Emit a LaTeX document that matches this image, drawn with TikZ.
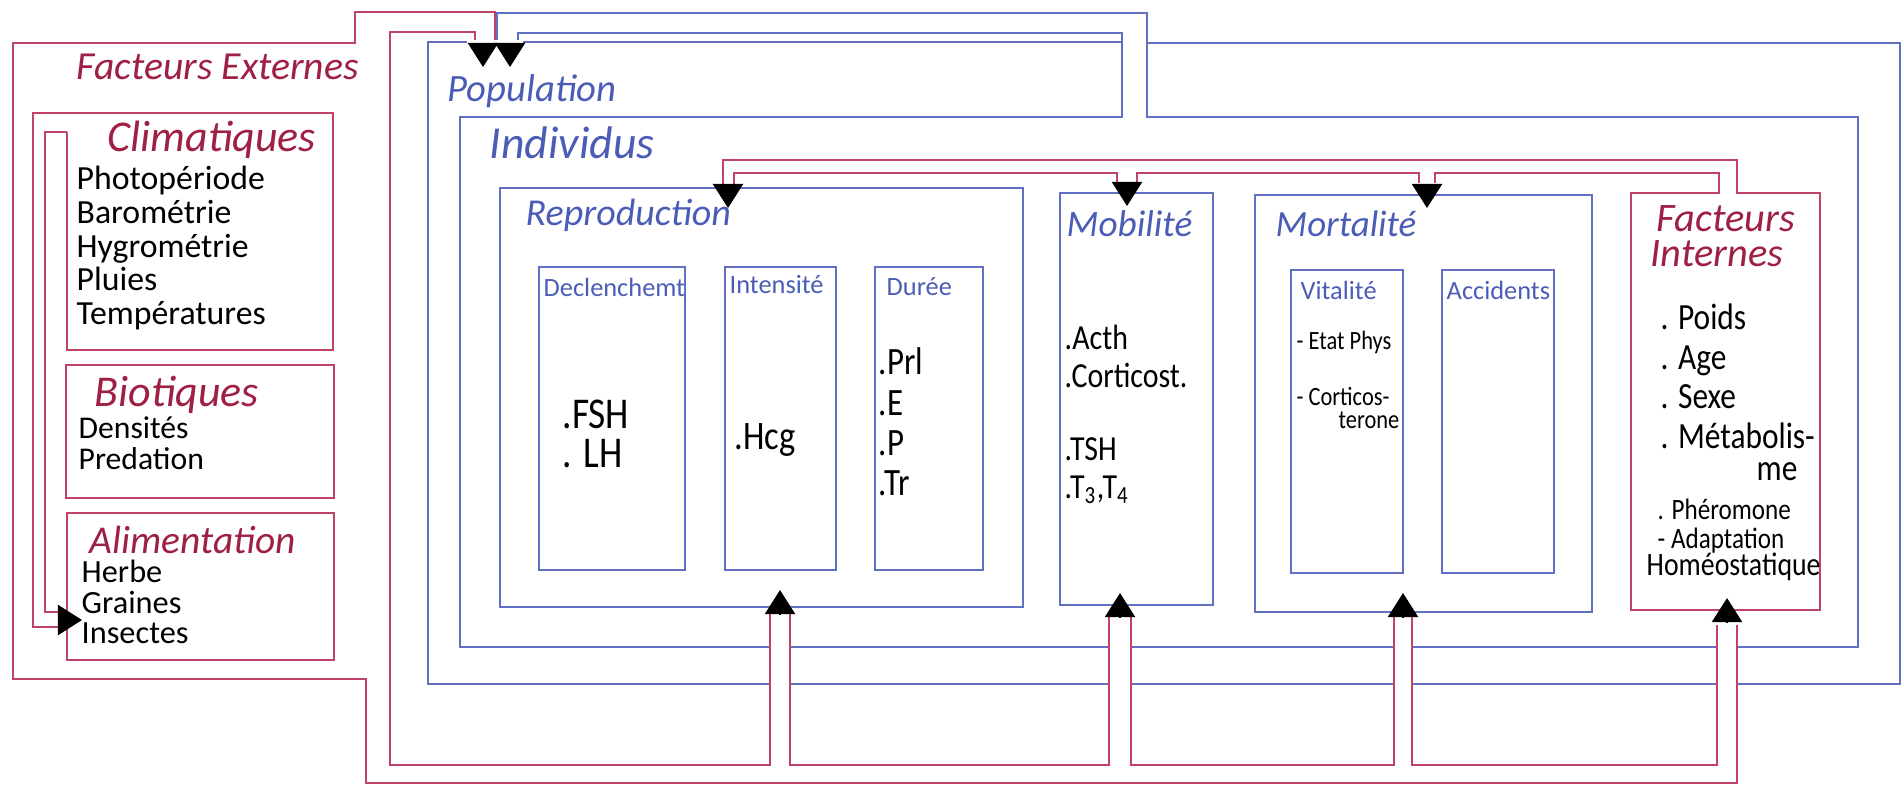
\documentclass[tikz,border=0pt]{standalone}
\usepackage{fontspec}
\setmainfont{Carlito}
\newfontfamily\inkfont[FakeStretch=0.85]{Carlito}
\usetikzlibrary{arrows.meta,positioning,fit}
\definecolor{penred}{RGB}{192,68,102}
\definecolor{inkred}{RGB}{158,32,68}
\definecolor{penblue}{RGB}{98,112,196}
\definecolor{inkblue}{RGB}{74,92,182}
\tikzset{
  redbox/.style={draw=penred, line width=0.8pt, inner sep=0pt},
  bluebox/.style={draw=penblue, line width=0.8pt, inner sep=0pt},
  zone/.style={inner sep=0pt},
  redwall/.style={draw=penred, line width=0.8pt},
  bluewall/.style={draw=penblue, line width=0.8pt},
  headtip/.style={-{Triangle[length=0.24cm,width=0.3cm]}, line width=0.6pt, black},
  redtitle/.style={text=inkred, font=\itshape\fontsize{#1}{#1}\selectfont, anchor=west, inner sep=0pt},
  bluetitle/.style={text=inkblue, font=\itshape\fontsize{#1}{#1}\selectfont, anchor=west, inner sep=0pt},
  bluesmall/.style={text=inkblue, font=\fontsize{7.5}{7.5}\selectfont, anchor=west, inner sep=0pt},
  ink/.style={anchor=west, inner sep=0pt, align=left},
}

\begin{document}
\begin{tikzpicture}[x=0.01cm, y=-0.01cm]
  \useasboundingbox (0,0) rectangle (1904,787);

  %% Boxes
  \node[zone, fit={(13,43) (390,679)}] (fext) {};
  \node[zone, fit={(67,113) (333,350)}] (clim) {};
  \node[redbox, fit={(66,365) (334,498)}] (bio) {};
  \node[redbox, fit={(67,513) (334,660)}] (alim) {};
  \node[zone, fit={(428,42) (1900,684)}] (popu) {};
  \node[zone, fit={(460,117) (1858,647)}] (indiv) {};
  \node[bluebox, fit={(500,188) (1023,607)}] (repro) {};
  \node[bluebox, fit={(539,267) (685,570)}] (decl) {};
  \node[bluebox, fit={(725,267) (836,570)}] (inten) {};
  \node[bluebox, fit={(875,267) (983,570)}] (duree) {};
  \node[bluebox, fit={(1060,193) (1213,605)}] (mobil) {};
  \node[bluebox, fit={(1255,195) (1592,612)}] (morta) {};
  \node[bluebox, fit={(1291,270) (1403,573)}] (vital) {};
  \node[bluebox, fit={(1442,270) (1554,573)}] (accid) {};
  \node[zone, fit={(1631,193) (1820,610)}] (fint) {};

  %% Population, Individus and the loop on top
  \draw[bluewall] (467,42) -- (428,42) -- (428,684) -- (1900,684) -- (1900,43) -- (1147,43);
  \draw[bluewall] (523,42) -- (1122,42);
  \draw[bluewall] (497,40) -- (497,13) -- (1147,13) -- (1147,117) -- (1858,117) -- (1858,647)
    -- (460,647) -- (460,117) -- (1122,117) -- (1122,33) -- (518,33) -- (518,40);

  %% red pipes
  \foreach \a/\b in {770/790, 1109/1131, 1394/1412, 1717/1737}
    \fill[white] (\a,615) rectangle (\b,765);
  \draw[redwall] (495,40) -- (495,12) -- (355,12) -- (355,43) -- (13,43) -- (13,679) -- (366,679)
    -- (366,783) -- (1737,783) -- (1737,625);
  \draw[redwall] (475,40) -- (475,32) -- (390,32) -- (390,765) -- (770,765) -- (770,612);
  \draw[redwall] (790,612) -- (790,765) -- (1109,765) -- (1109,614);
  \draw[redwall] (1131,614) -- (1131,765) -- (1394,765) -- (1394,615);
  \draw[redwall] (1412,615) -- (1412,765) -- (1717,765) -- (1717,625);
  \draw[redwall] (67,132) -- (67,350) -- (333,350) -- (333,113) -- (33,113) -- (33,627) -- (58,627);
  \draw[redwall] (58,612) -- (45,612) -- (45,132) -- (67,132);
  \draw[redwall] (1435,183) -- (1435,173) -- (1719,173) -- (1719,193) -- (1631,193) -- (1631,610)
    -- (1820,610) -- (1820,193) -- (1737,193) -- (1737,160) -- (723,160) -- (723,186);
  \draw[redwall] (1419,183) -- (1419,173) -- (1137,173) -- (1137,183);
  \draw[redwall] (1117,183) -- (1117,173) -- (734,173) -- (734,186);

  %% Arrow heads
  \draw[headtip] (483,43) -- (483,67);
  \draw[headtip] (510,43) -- (510,67);
  \draw[headtip] (728,184) -- (728,208);
  \draw[headtip] (1127,182) -- (1127,206);
  \draw[headtip] (1427,184) -- (1427,208);
  \draw[headtip] (780,614) -- (780,590);
  \draw[headtip] (1120,617) -- (1120,593);
  \draw[headtip] (1403,617) -- (1403,593);
  \draw[headtip] (1727,622) -- (1727,598);
  \draw[headtip] (58,620) -- (82,620);

  %% Facteurs externes
  \node[redtitle=11.3] (fextlbl) at (76,67) {Facteurs Externes};
  \node[redtitle=12.5] (climlbl) at (107,140) {Climatiques};
  \node[ink, font=\fontsize{9.6}{9.6}\selectfont] (climtxt) at (76,248)
    {Photopériode\\Barométrie\\Hygrométrie\\Pluies\\Températures};
  \node[redtitle=12.5] (biolbl) at (94,395) {Biotiques};
  \node[ink, font=\fontsize{9}{8.8}\selectfont] (biotxt) at (78,443) {Densités\\Predation};
  \node[redtitle=11.2] (alimlbl) at (89,540) {Alimentation};
  \node[ink, font=\fontsize{9.2}{8.6}\selectfont] (alimtxt) at (81,602) {Herbe\\Graines\\Insectes};

  %% Population
  \node[bluetitle=11] (populbl) at (447,91) {Population};
  \node[bluetitle=13] (indivlbl) at (489,143) {Individus};
  \node[bluetitle=10.8] (reprolbl) at (525,215) {Reproduction};
  \node[bluesmall] (decllbl) at (543,287) {Declenchemt};
  \node[bluesmall] (intenlbl) at (729,285) {Intensité};
  \node[bluesmall] (dureelbl) at (886,287) {Durée};
  \node[ink, font=\inkfont\fontsize{12.5}{11}\selectfont] (decltxt) at (562,434) {.FSH\\. LH};
  \node[ink, font=\inkfont\fontsize{11.5}{11.5}\selectfont] (intentxt) at (734,440) {.Hcg};
  \node[ink, font=\inkfont\fontsize{11}{11.5}\selectfont] (dureetxt) at (878,422) {.Prl\\.E\\.P\\.Tr};
  \node[bluetitle=10.6] (mobillbl) at (1066,224) {Mobilité};
  \node[ink, font=\inkfont\fontsize{10}{10.8}\selectfont] (mobiltxta) at (1064,356) {.Acth\\.Corticost.};
  \node[ink, font=\inkfont\fontsize{10}{10.8}\selectfont] (mobiltxtb) at (1064,471)
    {.TSH\\.T\textsubscript{3},T\textsubscript{4}};
  \node[bluetitle=10.5] (mortalbl) at (1275,224) {Mortalité};
  \node[bluesmall] (vitallbl) at (1300,290) {Vitalité};
  \node[bluesmall] (accidlbl) at (1446,290) {Accidents};
  \node[ink, font=\inkfont\fontsize{7.5}{7.5}\selectfont] (vitaltxta) at (1296,342) {- Etat Phys};
  \node[ink, font=\inkfont\fontsize{7.5}{7.5}\selectfont] (vitaltxtb) at (1296,396) {- Corticos-};
  \node[ink, anchor=east, font=\inkfont\fontsize{7.5}{7.5}\selectfont] (vitaltxtc) at (1400,420) {terone};

  %% Facteurs internes
  \node[redtitle=11.5] (fintlbla) at (1656,219) {Facteurs};
  \node[redtitle=11.5] (fintlblb) at (1650,254) {Internes};
  \node[ink, font=\inkfont\fontsize{10.5}{11.3}\selectfont] (finttxta) at (1660,392)
    {. Poids\\. Age\\. Sexe\\. Métabolis-\\[-2.3pt]\hspace*{2.6em}me};
  \node[ink, font=\inkfont\fontsize{8.4}{8.2}\selectfont] (finttxtc) at (1657,526) {. Phéromone\\- Adaptation};
  \node[ink, font=\inkfont\fontsize{9.3}{9.3}\selectfont] (finttxtd) at (1646,567) {Homéostatique};
\end{tikzpicture}
\end{document}
